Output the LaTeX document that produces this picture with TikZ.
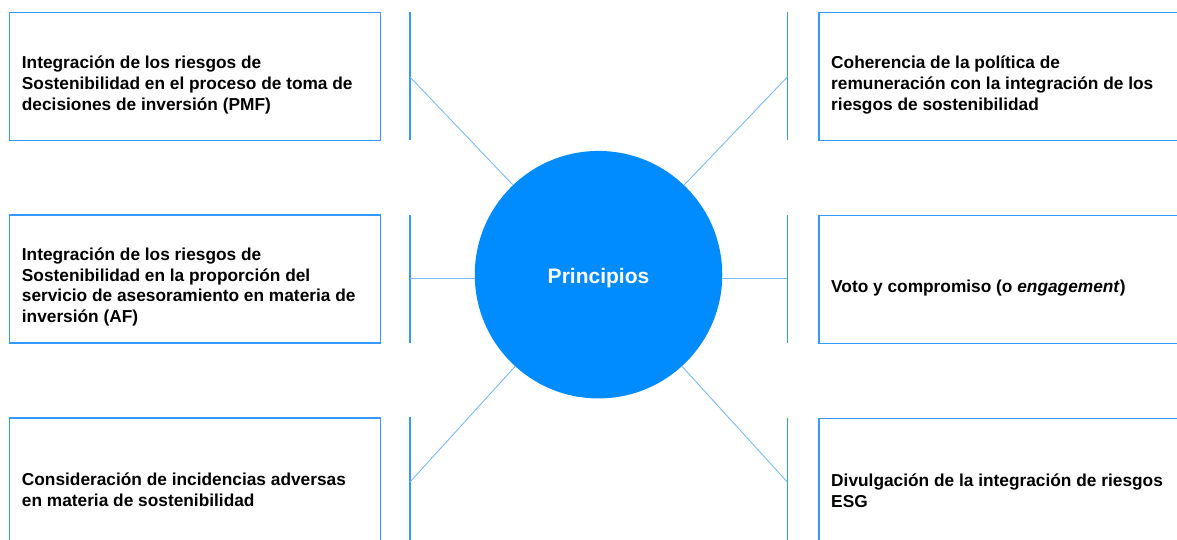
\documentclass[tikz,border=0pt]{standalone}
\usepackage{fontspec}
\setmainfont{Liberation Sans}
\definecolor{boxblue}{RGB}{51,153,255}
\definecolor{circblue}{RGB}{0,140,255}
\definecolor{linkblue}{RGB}{120,185,255}
\begin{document}
\begin{tikzpicture}[x=1pt,y=-1pt,
  box/.style={draw=boxblue,line width=1.2pt,minimum width=370.5pt,minimum height=128pt,anchor=north west,inner sep=0pt},
  rbox/.style={box,minimum width=380pt},
  txt/.style={anchor=west,align=left,font=\bfseries\fontsize{17.3}{20.8}\selectfont,inner sep=0pt},
  bar/.style={draw=boxblue,line width=1.5pt},
  link/.style={draw=linkblue,line width=0.9pt}]
\useasboundingbox (0,0) rectangle (1177,540);
\clip (0,0) rectangle (1177,540);
% boxes
\node[box] (L1) at (9,12.3) {};
\node[box] (L2) at (9,214.3) {};
\node[box] (L3) at (9,417.3) {};
\node[rbox] (R1) at (818.3,12.3) {};
\node[rbox] (R2) at (818.3,215) {};
\node[rbox] (R3) at (818.3,418) {};
% texts
\node[txt] (t1) at (21.7,85) {Integración de los riesgos de\\Sostenibilidad en el proceso de toma de\\decisiones de inversión (PMF)};
\node[txt] (t2) at (21.7,287) {Integración de los riesgos de\\Sostenibilidad en la proporción del\\servicio de asesoramiento en materia de\\inversión (AF)};
\node[txt] (t3) at (21.7,490) {Consideración de incidencias adversas\\en materia de sostenibilidad};
\node[txt] (t4) at (831,85) {Coherencia de la política de\\remuneración con la integración de los\\riesgos de sostenibilidad};
\node[txt] (t5) at (831,288.5) {Voto y compromiso (o \textit{engagement})};
\node[txt] (t6) at (831,491) {Divulgación de la integración de riesgos\\ESG};
% centre circle
\node[circle,fill=circblue,minimum size=247.5pt,inner sep=0pt,
  label={[text=white,font=\bfseries\fontsize{21}{25}\selectfont,yshift=-3pt]center:Principios}] (P) at (598.5,274.7) {};
% bars
\coordinate (a1) at (410,12);  \coordinate (a2) at (410,140.5);
\coordinate (a3) at (410,215); \coordinate (a4) at (410,343);
\coordinate (a5) at (410,417); \coordinate (a6) at (410,545);
\coordinate (b1) at (787.3,12);  \coordinate (b2) at (787.3,140.5);
\coordinate (b3) at (787.3,215); \coordinate (b4) at (787.3,343);
\coordinate (b5) at (787.3,418); \coordinate (b6) at (787.3,545);
\draw[bar] (a1) -- (a2);
\draw[bar] (a3) -- (a4);
\draw[bar] (a5) -- (a6);
\draw[bar] (b1) -- (b2);
\draw[bar] (b3) -- (b4);
\draw[bar] (b5) -- (b6);
% links
\coordinate (lt) at (410,77);
\coordinate (lm) at (410,278.7);
\coordinate (lb) at (410,482);
\coordinate (rt) at (787.3,77);
\coordinate (rm) at (787.3,278.7);
\coordinate (rb) at (787.3,482);
\draw[link] (P) -- (lt);
\draw[link] (lm) -- (lm -| P.west);
\draw[link] (P) -- (lb);
\draw[link] (P) -- (rt);
\draw[link] (rm) -- (rm -| P.east);
\draw[link] (P) -- (rb);
\end{tikzpicture}
\end{document}
